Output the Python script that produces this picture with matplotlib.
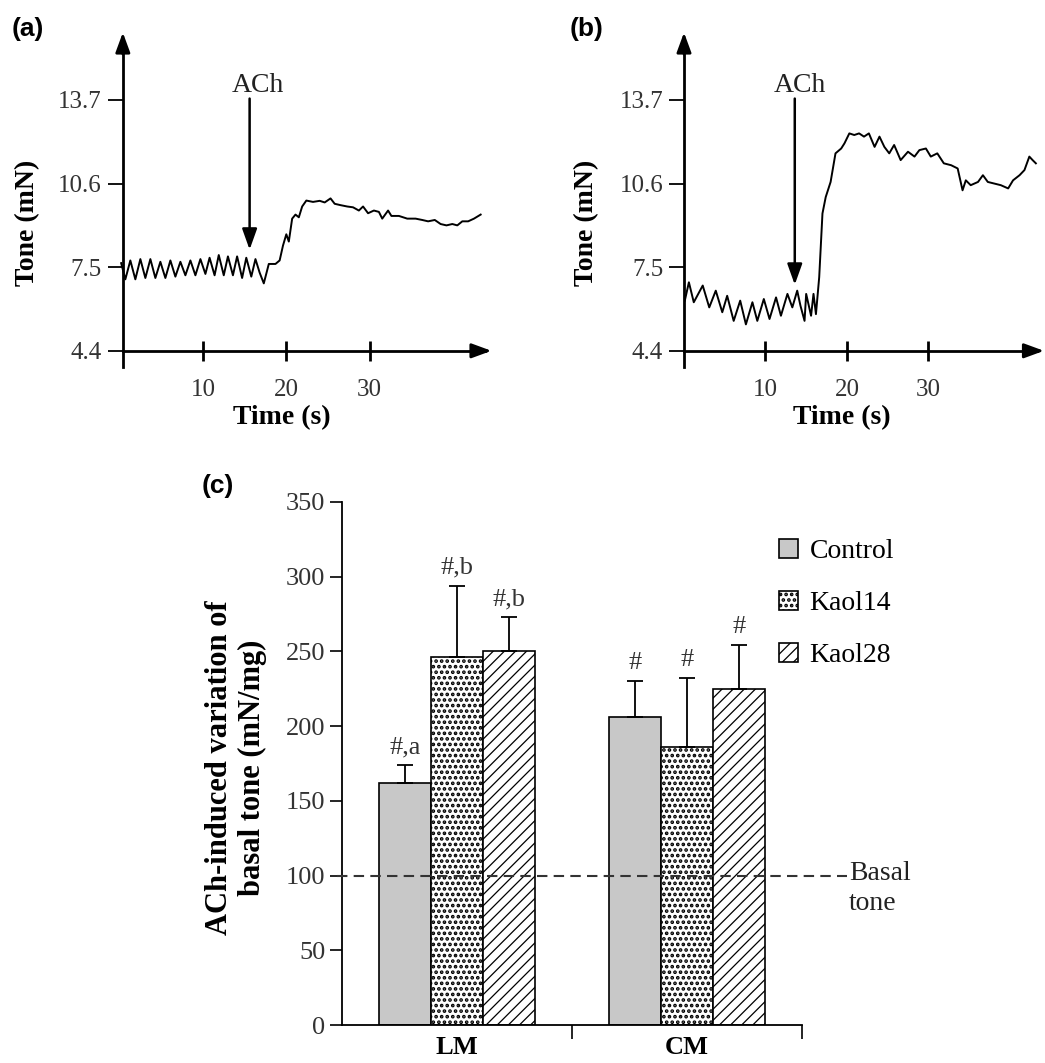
import matplotlib
matplotlib.use("Agg")
import matplotlib.pyplot as plt
import numpy as np

# ---- data ----
# panel (a): tone trace (s, mN)
ta = [0.2, 0.7, 1.3, 1.9, 2.5, 3.1, 3.7, 4.3, 4.9, 5.5, 6.1, 6.7, 7.3, 7.9, 8.5,
      9.1, 9.7, 10.3, 10.8, 11.4, 11.9, 12.5, 13.0, 13.6, 14.1, 14.7, 15.2, 15.8,
      16.3, 16.8, 17.3, 17.9, 18.7, 19.2, 19.6, 20.0, 20.3, 20.7, 21.1, 21.5, 21.9,
      22.4, 23.2, 24.0, 24.6, 25.3, 25.8, 26.5, 27.3, 28.0, 28.7, 29.2, 29.8, 30.5,
      31.1, 31.5, 32.2, 32.6, 33.5, 34.5, 35.5, 36.3, 37.0, 37.8, 38.5, 39.2, 39.9,
      40.5, 41.1, 41.8, 42.5, 43.3]
va = [7.65, 7.05, 7.75, 7.05, 7.8, 7.1, 7.8, 7.1, 7.7, 7.1, 7.75, 7.15, 7.7, 7.2, 7.75,
      7.2, 7.8, 7.25, 7.85, 7.2, 7.95, 7.2, 7.9, 7.2, 7.9, 7.1, 7.85, 7.15,
      7.8, 7.3, 6.9, 7.62, 7.62, 7.75, 8.3, 8.72, 8.45, 9.3, 9.45, 9.35, 9.75,
      9.97, 9.92, 9.96, 9.9, 10.05, 9.85, 9.8, 9.75, 9.72, 9.6, 9.75, 9.5, 9.6,
      9.55, 9.3, 9.6, 9.4, 9.4, 9.3, 9.3, 9.25, 9.2, 9.25, 9.1, 9.05, 9.1,
      9.05, 9.2, 9.2, 9.3, 9.45]

# panel (b): tone trace (s, mN)
tb = [0.1, 0.6, 1.2, 2.3, 3.1, 3.9, 4.7, 5.3, 6.1, 6.9, 7.6, 8.4, 9.0, 9.8, 10.5,
      11.3, 11.9, 12.7, 13.3, 13.9, 14.3, 14.8, 15.0, 15.6, 15.9, 16.2, 16.6, 17.0,
      17.4, 18.0, 18.6, 19.3, 19.7, 20.3, 20.9, 21.5, 22.1, 22.7, 23.4, 24.0, 24.6,
      25.2, 25.8, 26.6, 27.5, 28.3, 28.9, 29.7, 30.3, 31.1, 31.9, 32.8, 33.6, 34.2,
      34.6, 35.2, 36.1, 36.7, 37.3, 38.1, 38.9, 39.8, 40.4, 41.2, 41.8, 42.4, 42.8,
      43.2]
vb = [6.26, 6.94, 6.2, 6.82, 6.01, 6.63, 5.83, 6.44, 5.51, 6.26, 5.38, 6.2, 5.51, 6.32, 5.58,
      6.38, 5.7, 6.51, 6.01, 6.63, 6.07, 5.51, 6.51, 5.7, 6.51, 5.76, 7.13, 9.49,
      10.1, 10.66, 11.72, 11.9, 12.09, 12.46, 12.4, 12.46, 12.34, 12.46, 11.96, 12.34, 11.96,
      11.72, 12.03, 11.47, 11.78, 11.6, 11.84, 11.9, 11.6, 11.72, 11.35, 11.28, 11.16, 10.35,
      10.72, 10.54, 10.66, 10.91, 10.66, 10.6, 10.54, 10.42, 10.72, 10.91, 11.1, 11.6, 11.47,
      11.35]

tone_ticks = [4.4, 7.5, 10.6, 13.7]
time_ticks = [10, 20, 30]

# panel (c): bar chart
groups = ["LM", "CM"]
series = ["Control", "Kaol14", "Kaol28"]
control = [162, 206]
kaol14 = [246, 186]
kaol28 = [250, 225]
control_err = [12, 24]
kaol14_err = [48, 46]
kaol28_err = [23, 29]
marks = [["#,a", "#"], ["#,b", "#"], ["#,b", "#"]]
basal = 100

# ---- layout helpers (pixels of the 1045x1063 picture) ----
W, H = 1045, 1063
plt.rcParams["font.family"] = "Liberation Serif"
plt.rcParams["hatch.linewidth"] = 0.9
fig = plt.figure(figsize=(W / 100, H / 100), dpi=100)


def box(left, top, right, bottom):
    return [left / W, 1 - bottom / H, (right - left) / W, (bottom - top) / H]


def fx(px):
    return px / W


def fy(py):
    return 1 - py / H


def trace_panel(rect, t, v, yaxis_t, xmax, ach_t, ach_tip, ach_text_t):
    ax = fig.add_axes(rect)
    ax.plot(t, v, color="k", lw=1.4)
    ax.set_xlim(0, xmax)
    ax.set_ylim(3.8, 16.2)
    ax.patch.set_visible(False)
    for s in ["top", "right"]:
        ax.spines[s].set_visible(False)
    ax.spines["left"].set_position(("data", yaxis_t))
    ax.spines["bottom"].set_position(("data", 4.4))
    ax.spines["bottom"].set_bounds(yaxis_t, xmax - 0.8)
    ax.spines["left"].set_bounds(3.8, 15.6)
    for s in ["left", "bottom"]:
        ax.spines[s].set_linewidth(2)
    # arrow heads on the axes
    head = dict(arrowstyle="-|>,head_length=0.6,head_width=0.22", color="k",
                lw=2, mutation_scale=20, shrinkA=0, shrinkB=0)
    ax.annotate("", xy=(yaxis_t, 16.2), xytext=(yaxis_t, 15.4),
                arrowprops=head, annotation_clip=False)
    ax.annotate("", xy=(xmax, 4.4), xytext=(xmax - 1.2, 4.4),
                arrowprops=head, annotation_clip=False)

    ax.set_yticks(tone_ticks, [str(x) for x in tone_ticks])
    ax.set_xticks(time_ticks, [str(x) for x in time_ticks])
    ax.tick_params(axis="y", direction="out", length=11, width=1.3, pad=4,
                   labelsize=18, labelcolor="#333")
    ax.tick_params(axis="x", direction="inout", length=14, width=2, pad=13,
                   labelsize=18, labelcolor="#333")

    ax.annotate("", xy=(ach_t, ach_tip), xytext=(ach_t, 13.75),
                arrowprops=dict(arrowstyle="-|>,head_length=0.7,head_width=0.25",
                                color="k", lw=1.8, mutation_scale=18,
                                shrinkA=0, shrinkB=0))
    ax.text(ach_text_t, 14.25, "ACh", ha="center", va="center", fontsize=20,
            color="#222")
    return ax


# (a)
trace_panel(box(119.5, 32.5, 491.5, 367), ta, va, 0.4, 44.6, 15.6, 8.15, 16.6)
fig.text(fx(12), fy(29), "(a)", family="Liberation Sans", weight="bold",
         size=19, va="center")
fig.text(fx(28), fy(223), "Tone (mN)", rotation=90, ha="center", va="center",
         fontsize=20, fontweight="bold")
fig.text(fx(282), fy(418), "Time (s)", ha="center", va="center",
         fontsize=20, fontweight="bold")

# (b)
trace_panel(box(684, 32.5, 1044, 367), tb, vb, 0.0, 44.2, 13.6, 6.85, 14.2)
fig.text(fx(570), fy(29), "(b)", family="Liberation Sans", weight="bold",
         size=19, va="center")
fig.text(fx(587), fy(223), "Tone (mN)", rotation=90, ha="center", va="center",
         fontsize=20, fontweight="bold")
fig.text(fx(842), fy(418), "Time (s)", ha="center", va="center",
         fontsize=20, fontweight="bold")

# (c)
ax = fig.add_axes(box(342, 502, 802, 1025))
x = np.arange(len(groups)) + 0.5
w = 0.2266
styles = [dict(color="#c8c8c8", hatch=None, hlw=0.9),
          dict(color="white", hatch="...", hlw=1.8),
          dict(color="white", hatch="///", hlw=0.9)]
values = [control, kaol14, kaol28]
errors = [control_err, kaol14_err, kaol28_err]
handles = []
for i, (name, vals, errs, st) in enumerate(zip(series, values, errors, styles)):
    xs = x + (i - 1) * w
    with plt.rc_context({"hatch.linewidth": st["hlw"]}):
        bars = ax.bar(xs, vals, w, color=st["color"], hatch=st["hatch"],
                      edgecolor="k", lw=1.2, label=name, zorder=2)
    for b in bars:
        if hasattr(b, "set_hatch_linewidth"):
            b.set_hatch_linewidth(st["hlw"])
    handles.append(bars)
    ax.errorbar(xs, vals, yerr=[np.zeros(len(vals)), errs], fmt="none",
                ecolor="k", elinewidth=1.3, capsize=6, capthick=1.3, zorder=3)
    for xx, vv, ee, mk in zip(xs, vals, errs, marks[i]):
        ax.text(xx, vv + ee + 8, mk, ha="center", va="baseline", fontsize=19,
                color="#333")

ax.plot([-0.02, 2.196], [basal, basal], ls=(0, (5, 3)), lw=1.5, color="#333",
        clip_on=False, zorder=5)
ax.text(2.205, basal + 9.5, "Basal\ntone", ha="left", va="top", fontsize=20,
        linespacing=1.25, color="#222")

ax.set_xlim(0, 2)
ax.set_ylim(0, 350)
ax.set_yticks(np.arange(0, 351, 50))
ax.set_xticks(x, groups, fontweight="bold")
ax.set_xticks([1, 2], minor=True)
ax.tick_params(axis="x", which="major", length=0, pad=8, labelsize=19)
ax.tick_params(axis="x", which="minor", direction="out", length=10, width=1.2)
ax.tick_params(axis="y", direction="out", length=9, width=1.2, pad=3,
               labelsize=19, labelcolor="#333")
for s in ["top", "right"]:
    ax.spines[s].set_visible(False)
for s in ["left", "bottom"]:
    ax.spines[s].set_linewidth(1.3)

leg = ax.legend(loc="upper left", bbox_to_anchor=(fx(779), fy(539)),
                bbox_transform=fig.transFigure, frameon=False, fontsize=20,
                handlelength=0.7, handleheight=0.7, handletextpad=0.4,
                labelspacing=0.95, borderpad=0, borderaxespad=0)
for p, st in zip(leg.get_patches(), styles):
    if hasattr(p, "set_hatch_linewidth"):
        p.set_hatch_linewidth(st["hlw"])

fig.text(fx(202), fy(486), "(c)", family="Liberation Sans", weight="bold",
         size=19, va="center")
fig.text(fx(236), fy(768), "ACh-induced variation of\nbasal tone (mN/mg)",
         rotation=90, ha="center", va="center", fontsize=22, fontweight="bold",
         linespacing=1.2)

fig.savefig("out.png", dpi=100)
